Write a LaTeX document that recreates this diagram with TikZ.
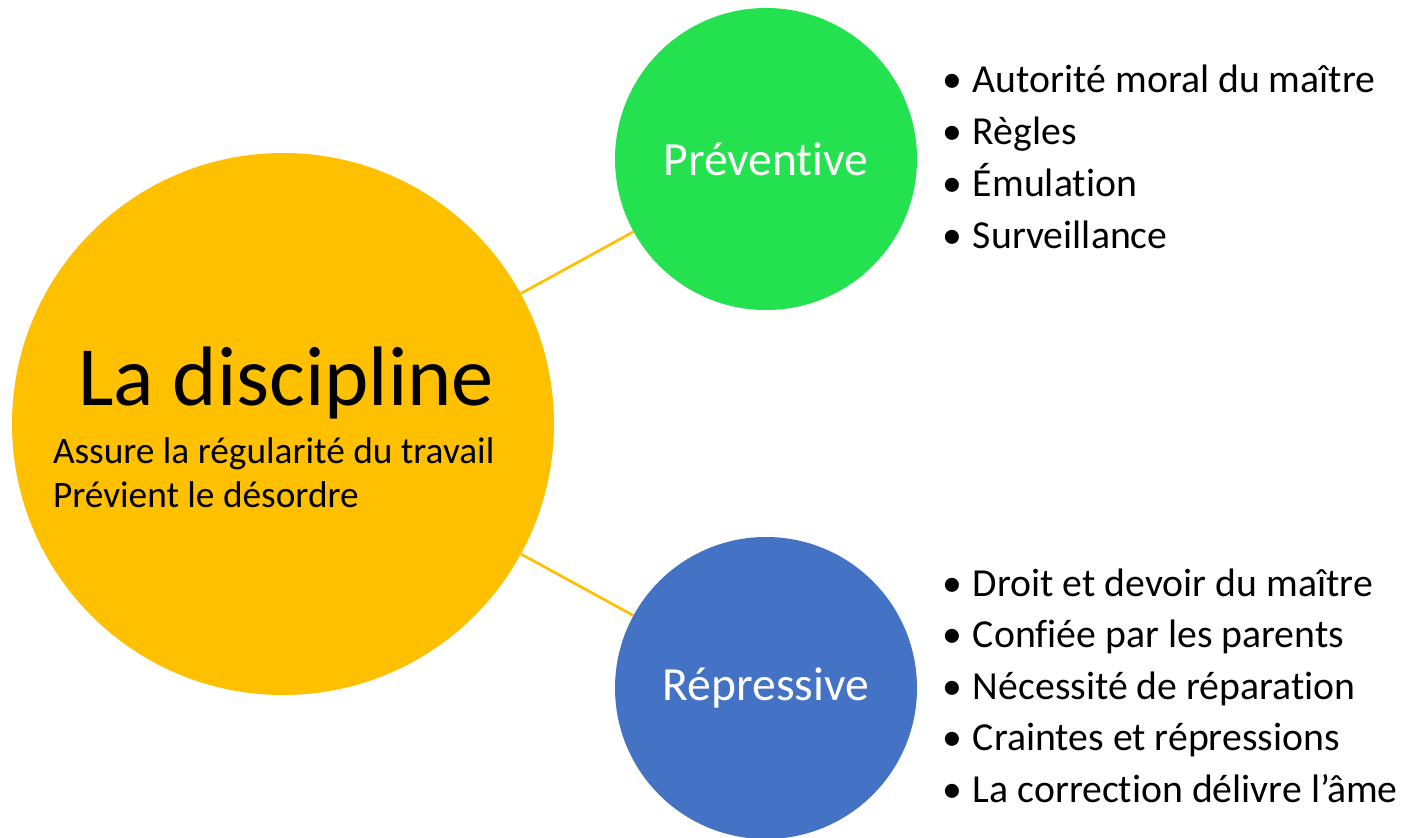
\documentclass[tikz,border=0pt]{standalone}
\usepackage{fontspec}
\setmainfont{Carlito}[Ligatures={NoCommon}]
\definecolor{gold}{HTML}{FFC000}
\definecolor{leaf}{HTML}{24E150}
\definecolor{steel}{HTML}{4472C4}
\tikzset{
  bubble/.style={circle, inner sep=0pt, draw=none},
  txt/.style={anchor=base west, inner sep=0pt, outer sep=0pt},
  item/.style={txt, font=\fontsize{29.8}{36}\selectfont},
  link/.style={draw=gold, line width=2pt}
}
\begin{document}
\begin{tikzpicture}[x=0.75pt, y=-0.75pt]
                \useasboundingbox (0,0) rectangle (1406,838);
                % the three circles
                \node[bubble, fill=gold, minimum size=406.5pt] (disc) at (283,424) {};
                \node[bubble, fill=leaf, minimum size=226.5pt] (prev) at (766,159) {};
                \node[bubble, fill=steel, minimum size=226.5pt] (repr) at (766,688) {};
                \draw[link] (disc) -- (prev);
                \draw[link] (disc) -- (repr);
                % texts in the circles
                \node[txt, font=\fontsize{63.3}{72}\selectfont] (title) at (78,405) {La discipline};
                \node[txt, font=\fontsize{28}{34}\selectfont] (sub1) at (53,463) {Assure la régularité du travail};
                \node[txt, font=\fontsize{28}{34}\selectfont] (sub2) at (53,507) {Prévient le désordre};
                \node[text=white, font=\fontsize{35.7}{42}\selectfont] (prevtxt) at (prev) {Préventive};
                \node[text=white, font=\fontsize{35.7}{42}\selectfont] (reprtxt) at (repr) {Répressive};
                % the two lists
                \foreach \t [count=\i from 0] in {Autorité moral du maître, Règles, Émulation, Surveillance}
                {
                    \node[item] (pa\i) at (973,{93+51.7*\i}) {\llap{\textbullet\hskip 8pt}\t};
                }
                \foreach \t [count=\i from 0] in {Droit et devoir du maître, Confiée par les parents, Nécessité de réparation, Craintes et répressions, La correction délivre l’âme}
                {
                    \node[item] (ra\i) at (973,{596+51.5*\i}) {\llap{\textbullet\hskip 8pt}\t};
                }
\end{tikzpicture}
\end{document}
